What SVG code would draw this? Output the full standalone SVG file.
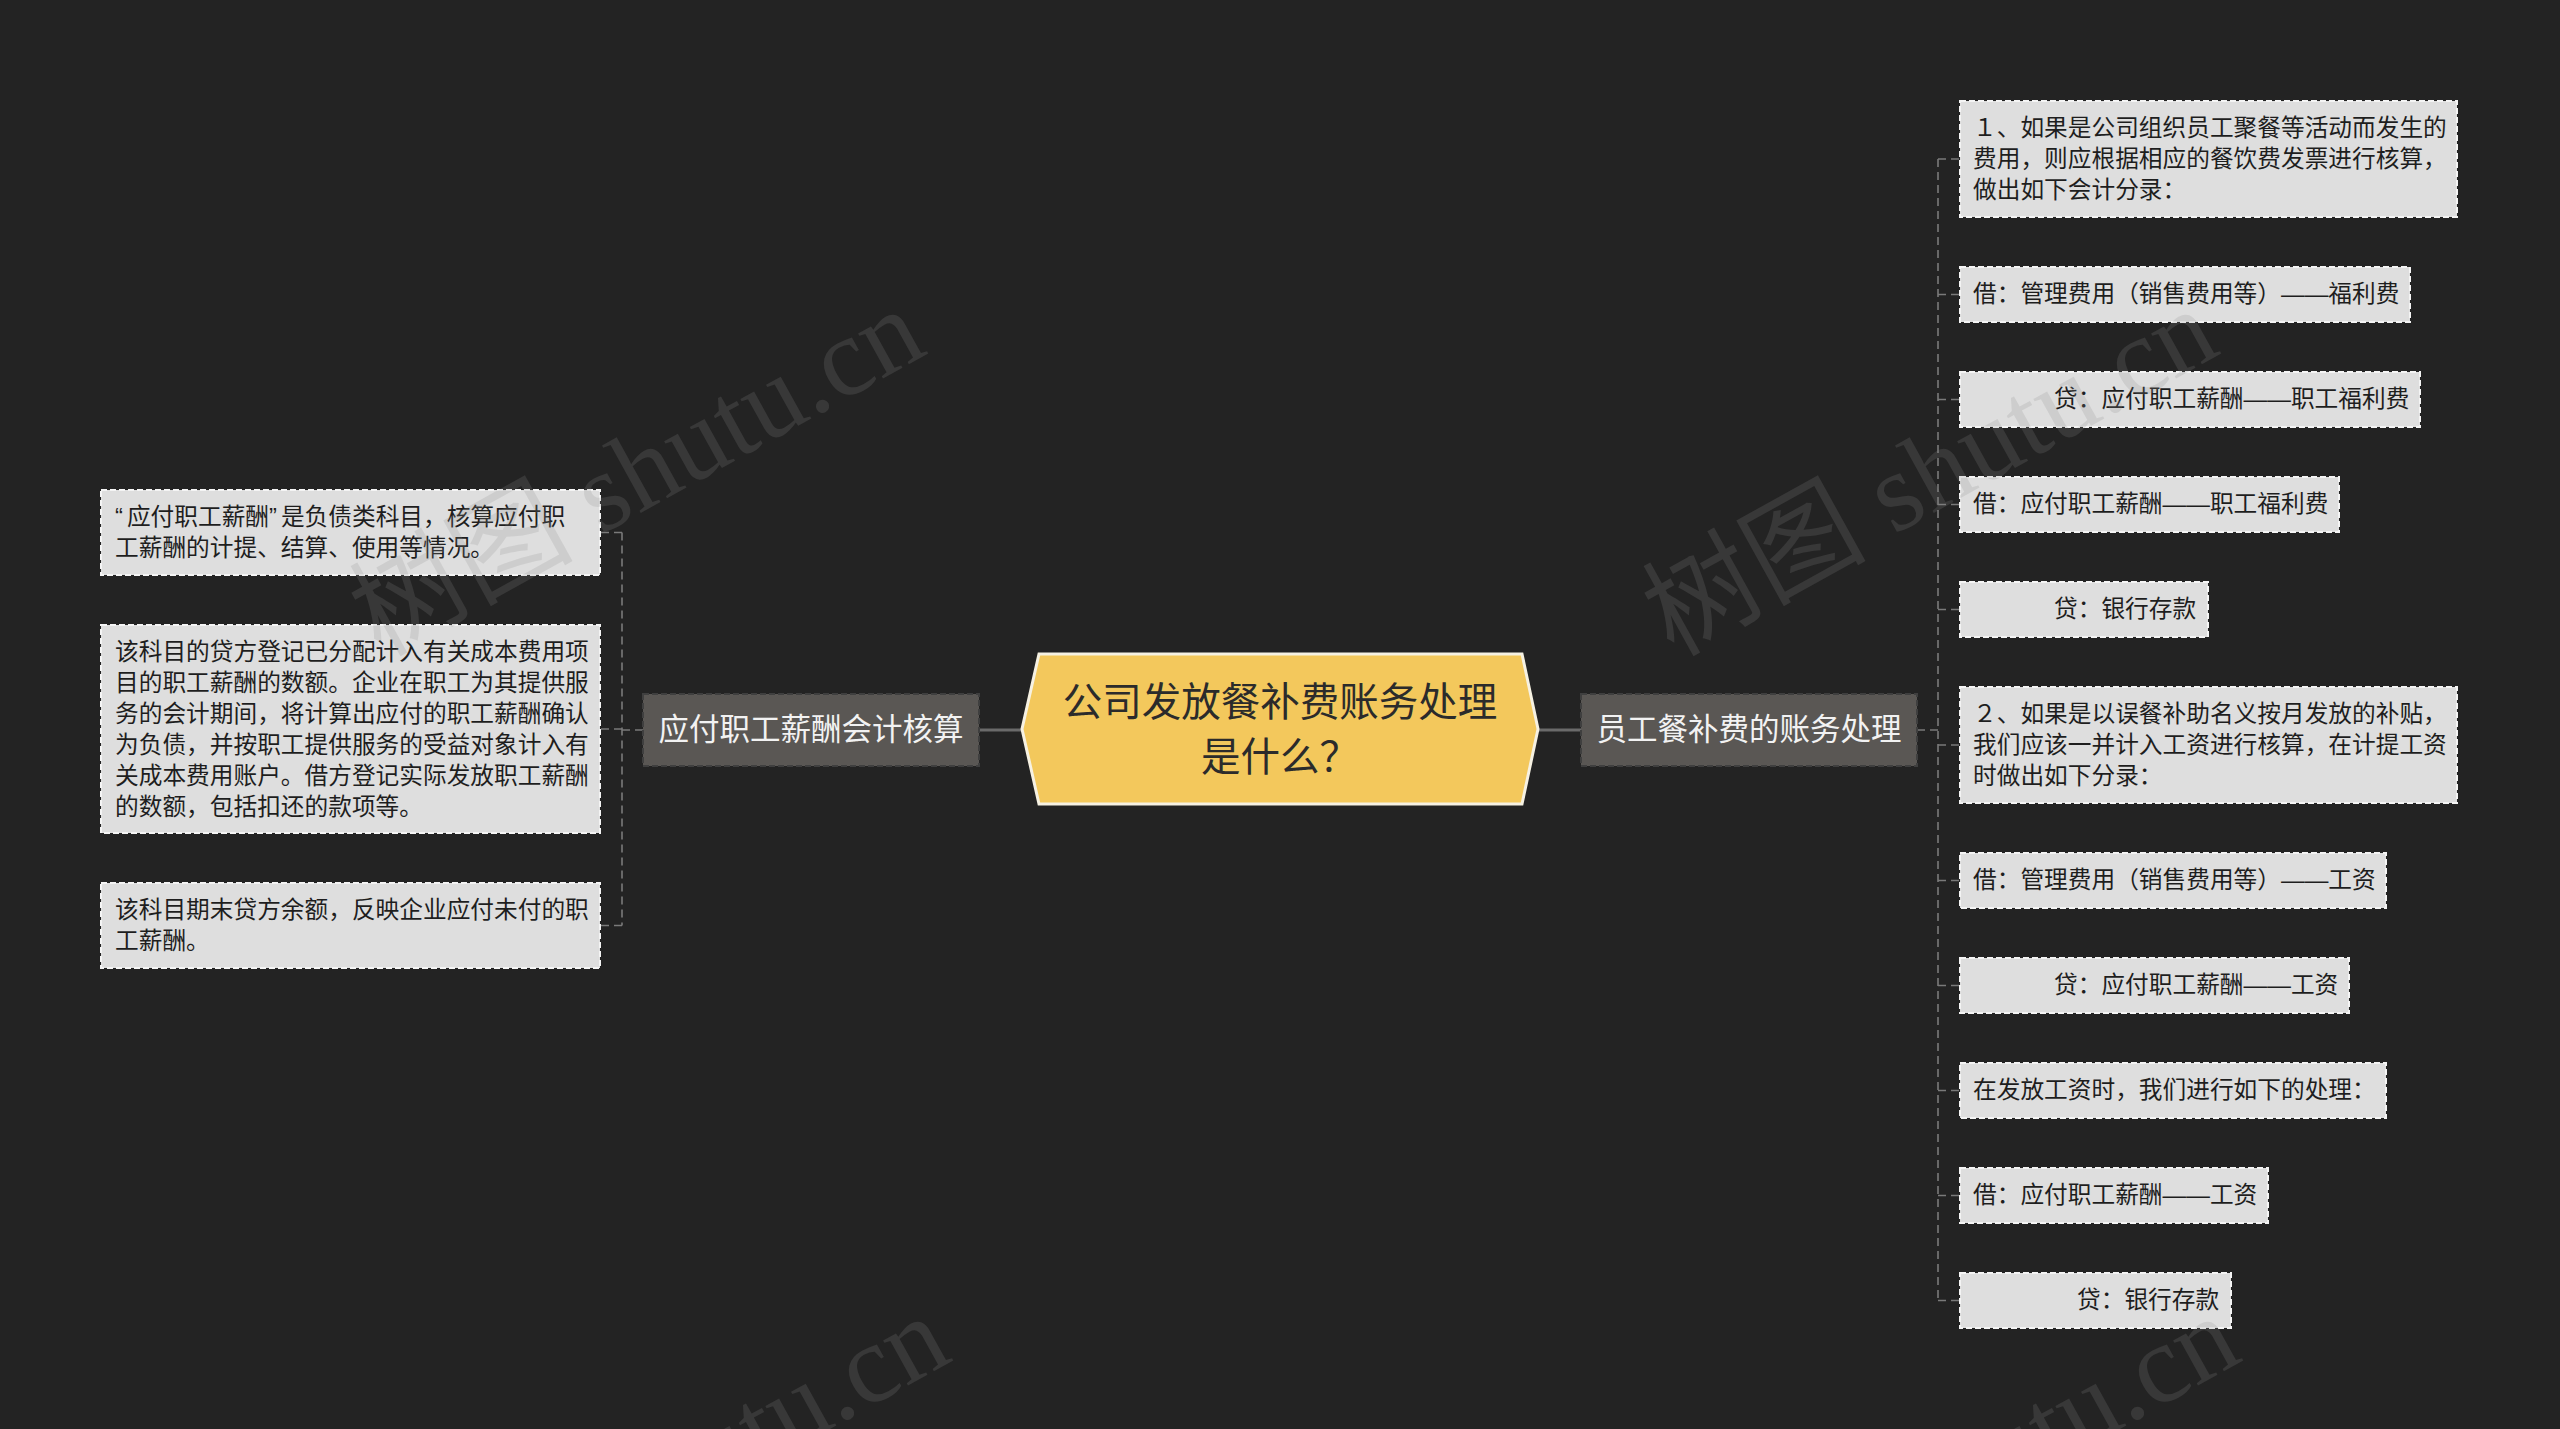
<svg xmlns="http://www.w3.org/2000/svg" width="2560" height="1429" viewBox="0 0 2560 1429">
<style>
.cjk{font-family:"Noto Sans CJK SC","Noto Sans",sans-serif}
.lat{font-family:"Liberation Sans",sans-serif}
.leaf rect{fill:#dedede;stroke:#f4f4f4;stroke-width:2;stroke-dasharray:6 3}
.leaf text{font-size:23.7px;fill:#1e1e1e}
.branch rect{fill:#5a5754;stroke:#3f3f3f;stroke-width:2;stroke-dasharray:6 3}
.branch text{font-size:30.5px;fill:#f2f2f2;text-anchor:middle}
.main{stroke:#6a6a6a;stroke-width:3;fill:none}
.sub{stroke:#7a7a7a;stroke-width:1.6;fill:none;stroke-dasharray:8 5}
.wm{font-family:"Liberation Serif","Noto Sans CJK SC",serif;font-size:112px;fill:#8a8a8a;fill-opacity:0.2}
</style>
<rect x="0" y="0" width="2560" height="1429" fill="#232323"/>

<g id="connectors">
  <line class="main" x1="979" y1="730" x2="1022" y2="730"/>
  <line class="main" x1="1538" y1="730" x2="1581" y2="730"/>
  <line class="sub" x1="643" y1="730" x2="622" y2="730"/>
  <line class="sub" x1="622" y1="532.5" x2="622" y2="925.5"/>
  <line class="sub" x1="622" y1="532.5" x2="601" y2="532.5"/>
  <line class="sub" x1="622" y1="729" x2="601" y2="729"/>
  <line class="sub" x1="622" y1="925.5" x2="601" y2="925.5"/>
  <line class="sub" x1="1917" y1="730" x2="1938" y2="730"/>
  <line class="sub" x1="1938" y1="159" x2="1938" y2="1300.5"/>
  <line class="sub" x1="1938" y1="159" x2="1959" y2="159"/>
  <line class="sub" x1="1938" y1="294.5" x2="1959" y2="294.5"/>
  <line class="sub" x1="1938" y1="399.5" x2="1959" y2="399.5"/>
  <line class="sub" x1="1938" y1="504.5" x2="1959" y2="504.5"/>
  <line class="sub" x1="1938" y1="609.5" x2="1959" y2="609.5"/>
  <line class="sub" x1="1938" y1="745" x2="1959" y2="745"/>
  <line class="sub" x1="1938" y1="880.5" x2="1959" y2="880.5"/>
  <line class="sub" x1="1938" y1="985.5" x2="1959" y2="985.5"/>
  <line class="sub" x1="1938" y1="1090.5" x2="1959" y2="1090.5"/>
  <line class="sub" x1="1938" y1="1195.5" x2="1959" y2="1195.5"/>
  <line class="sub" x1="1938" y1="1300.5" x2="1959" y2="1300.5"/>
</g>

<g id="root">
  <polygon points="1039,654 1522,654 1538,729 1522,804 1039,804 1022,729" fill="#f3c85c" stroke="#f6f1e2" stroke-width="3"/>
  <text class="cjk" x="1280" y="716" font-size="39.5" fill="#2b2b2b" text-anchor="middle">公司发放餐补费账务处理</text>
  <text class="cjk" x="1280" y="771" font-size="39.5" fill="#2b2b2b" text-anchor="middle">是什么？</text>
</g>

<g id="branch-left" class="branch">
  <rect x="643" y="694" width="336" height="72"/>
  <text class="cjk" x="811" y="740">应付职工薪酬会计核算</text>
</g>
<g id="branch-right" class="branch">
  <rect x="1581" y="694" width="336" height="72"/>
  <text class="cjk" x="1749" y="740">员工餐补费的账务处理</text>
</g>

<g id="left-1" class="leaf">
  <rect x="101" y="490" width="499" height="85"/>
  <text class="cjk" x="115" y="524.5"><tspan class="lat">“</tspan><tspan dx="4">应付职工薪酬</tspan><tspan class="lat">”</tspan><tspan dx="4">是负债类科目，核算应付职</tspan></text>
  <text class="cjk" x="115" y="555.5">工薪酬的计提、结算、使用等情况。</text>
</g>
<g id="left-2" class="leaf">
  <rect x="101" y="625" width="499" height="208"/>
  <text class="cjk" x="115" y="659.5">该科目的贷方登记已分配计入有关成本费用项</text>
  <text class="cjk" x="115" y="690.5">目的职工薪酬的数额。企业在职工为其提供服</text>
  <text class="cjk" x="115" y="721.5">务的会计期间，将计算出应付的职工薪酬确认</text>
  <text class="cjk" x="115" y="752.5">为负债，并按职工提供服务的受益对象计入有</text>
  <text class="cjk" x="115" y="783.5">关成本费用账户。借方登记实际发放职工薪酬</text>
  <text class="cjk" x="115" y="814.5">的数额，包括扣还的款项等。</text>
</g>
<g id="left-3" class="leaf">
  <rect x="101" y="883" width="499" height="85"/>
  <text class="cjk" x="115" y="917.5">该科目期末贷方余额，反映企业应付未付的职</text>
  <text class="cjk" x="115" y="948.5">工薪酬。</text>
</g>

<g id="right-1" class="leaf">
  <rect x="1960" y="101" width="497" height="116"/>
  <text class="cjk" x="1973" y="135.5">１、如果是公司组织员工聚餐等活动而发生的</text>
  <text class="cjk" x="1973" y="166.5">费用，则应根据相应的餐饮费发票进行核算，</text>
  <text class="cjk" x="1973" y="197.5">做出如下会计分录：</text>
</g>
<g id="right-2" class="leaf">
  <rect x="1960" y="267" width="450" height="55"/>
  <text class="cjk" x="1973" y="302">借：管理费用（销售费用等）<tspan class="lat">——</tspan>福利费</text>
</g>
<g id="right-3" class="leaf">
  <rect x="1960" y="372" width="460" height="55"/>
  <text class="cjk" x="2054" y="407">贷：应付职工薪酬<tspan class="lat">——</tspan>职工福利费</text>
</g>
<g id="right-4" class="leaf">
  <rect x="1960" y="477" width="379" height="55"/>
  <text class="cjk" x="1973" y="512">借：应付职工薪酬<tspan class="lat">——</tspan>职工福利费</text>
</g>
<g id="right-5" class="leaf">
  <rect x="1960" y="582" width="248" height="55"/>
  <text class="cjk" x="2054" y="617">贷：银行存款</text>
</g>
<g id="right-6" class="leaf">
  <rect x="1960" y="687" width="497" height="116"/>
  <text class="cjk" x="1973" y="721.5">２、如果是以误餐补助名义按月发放的补贴，</text>
  <text class="cjk" x="1973" y="752.5">我们应该一并计入工资进行核算，在计提工资</text>
  <text class="cjk" x="1973" y="783.5">时做出如下分录：</text>
</g>
<g id="right-7" class="leaf">
  <rect x="1960" y="853" width="426" height="55"/>
  <text class="cjk" x="1973" y="888">借：管理费用（销售费用等）<tspan class="lat">——</tspan>工资</text>
</g>
<g id="right-8" class="leaf">
  <rect x="1960" y="958" width="389" height="55"/>
  <text class="cjk" x="2054" y="993">贷：应付职工薪酬<tspan class="lat">——</tspan>工资</text>
</g>
<g id="right-9" class="leaf">
  <rect x="1960" y="1063" width="426" height="55"/>
  <text class="cjk" x="1973" y="1098">在发放工资时，我们进行如下的处理：</text>
</g>
<g id="right-10" class="leaf">
  <rect x="1960" y="1168" width="308" height="55"/>
  <text class="cjk" x="1973" y="1203">借：应付职工薪酬<tspan class="lat">——</tspan>工资</text>
</g>
<g id="right-11" class="leaf">
  <rect x="1960" y="1273" width="271" height="55"/>
  <text class="cjk" x="2077" y="1308">贷：银行存款</text>
</g>

<g id="watermark">
  <text class="wm" transform="translate(655 505) rotate(-29)" text-anchor="middle">树图 shutu.cn</text>
  <text class="wm" transform="translate(1948 505) rotate(-29)" text-anchor="middle">树图 shutu.cn</text>
  <text class="wm" transform="translate(680 1512) rotate(-29)" text-anchor="middle">树图 shutu.cn</text>
  <text class="wm" transform="translate(1970 1512) rotate(-29)" text-anchor="middle">树图 shutu.cn</text>
</g>
</svg>
